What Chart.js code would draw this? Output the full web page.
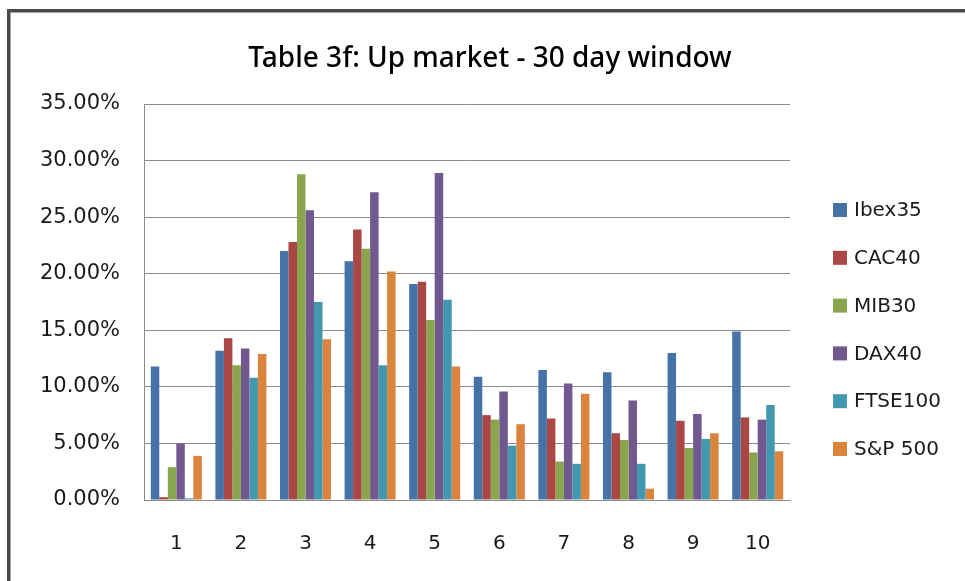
<!DOCTYPE html>
<html>
<head>
<meta charset="utf-8">
<title>Table 3f: Up market - 30 day window</title>
<script src="https://cdn.jsdelivr.net/npm/chart.js@4/dist/chart.umd.min.js"></script>
<style>
  html, body { margin: 0; padding: 0; background: #fff; overflow: hidden; }
  #frame {
    position: absolute; left: 7px; top: 9px; width: 2000px; height: 2000px;
    border-left: 3px solid #4a4a4a; border-top: 3px solid #4a4a4a;
    box-shadow: inset 1px 1px 0 #a0a0a0;
  }
  #wrap { position: absolute; left: 0; top: 0; width: 965px; height: 581px; }
</style>
</head>
<body>
<div id="frame"></div>
<div id="wrap"><canvas id="myChart" width="965" height="581"></canvas></div>
<script>
// categories and series (percent values)
const categories = ['1', '2', '3', '4', '5', '6', '7', '8', '9', '10']
const ibex35  = [11.8, 13.2, 22.0, 21.1, 19.1, 10.9, 11.5, 11.3, 13.0, 14.9]
const cac40   = [0.25, 14.3, 22.8, 23.9, 19.3, 7.5, 7.2, 5.9, 7.0, 7.3]
const mib30   = [2.9, 11.9, 28.8, 22.2, 15.9, 7.1, 3.4, 5.3, 4.6, 4.2]
const dax40   = [5.0, 13.4, 25.6, 27.2, 28.9, 9.6, 10.3, 8.8, 7.6, 7.1]
const ftse100 = [0.15, 10.8, 17.5, 11.9, 17.7, 4.8, 3.2, 3.2, 5.4, 8.4]
const sp500   = [3.9, 12.9, 14.2, 20.2, 11.8, 6.7, 9.4, 1.0, 5.9, 4.3]

const seriesNames = ['Ibex35', 'CAC40', 'MIB30', 'DAX40', 'FTSE100', 'S&P 500']
const seriesValues = [ibex35, cac40, mib30, dax40, ftse100, sp500]
const colours = ['#4572A7', '#AA4643', '#89A54E', '#71588F', '#4198AF', '#DB843D']

const titleText = 'Table 3f: Up market - 30 day window'
const tickFont = { family: 'DejaVu Sans', size: 20 }

// title and the legend on the right are painted by hand
const extras = {
	id: 'extras',
	afterDraw(chart) {
		const { ctx, chartArea } = chart
		ctx.save()
		ctx.fillStyle = '#000'
		ctx.font = '500 28px "Noto Sans"'
		ctx.textAlign = 'center'
		ctx.textBaseline = 'alphabetic'
		ctx.fillText(titleText, 490, 67)

		ctx.font = '20px "DejaVu Sans"'
		ctx.textAlign = 'left'
		ctx.textBaseline = 'middle'
		chart.data.datasets.forEach((ds, i) => {
			const y = 210 + i * 47.8
			ctx.fillStyle = ds.backgroundColor
			ctx.fillRect(chartArea.right + 43, y - 7, 14, 14)
			ctx.fillStyle = '#1a1a1a'
			ctx.fillText(ds.label, chartArea.right + 64, y + 1)
		})
		ctx.restore()
	}
}

const config = {
	type: 'bar',
	data: {
		labels: categories,
		datasets: seriesNames.map((name, i) => ({
			label: name,
			data: seriesValues[i],
			backgroundColor: colours[i],
			borderWidth: 0,
			categoryPercentage: 0.79,
			barPercentage: 1.0
		}))
	},
	options: {
		responsive: false,
		animation: false,
		layout: { padding: { left: 10, right: 175, top: 104, bottom: 0 } },
		plugins: {
			legend: { display: false },
			title: { display: false },
			tooltip: { enabled: false }
		},
		scales: {
			x: {
				grid: { display: false, drawTicks: false },
				border: { color: '#8c8c8c', width: 1 },
				ticks: { font: tickFont, color: '#1a1a1a', padding: 32 },
				afterFit(scale) { scale.height = 81 }
			},
			y: {
				min: 0,
				max: 35,
				grid: { color: '#8c8c8c', drawTicks: false },
				border: { color: '#8c8c8c', width: 1 },
				ticks: {
					stepSize: 5,
					font: { family: 'DejaVu Sans', size: 21 },
					color: '#1a1a1a',
					padding: 24,
					callback: v => v.toFixed(2) + '%'
				},
				afterFit(scale) { scale.width = 134 }
			}
		}
	},
	plugins: [extras]
}

const myChart = new Chart(document.getElementById('myChart'), config)
</script>
</body>
</html>
